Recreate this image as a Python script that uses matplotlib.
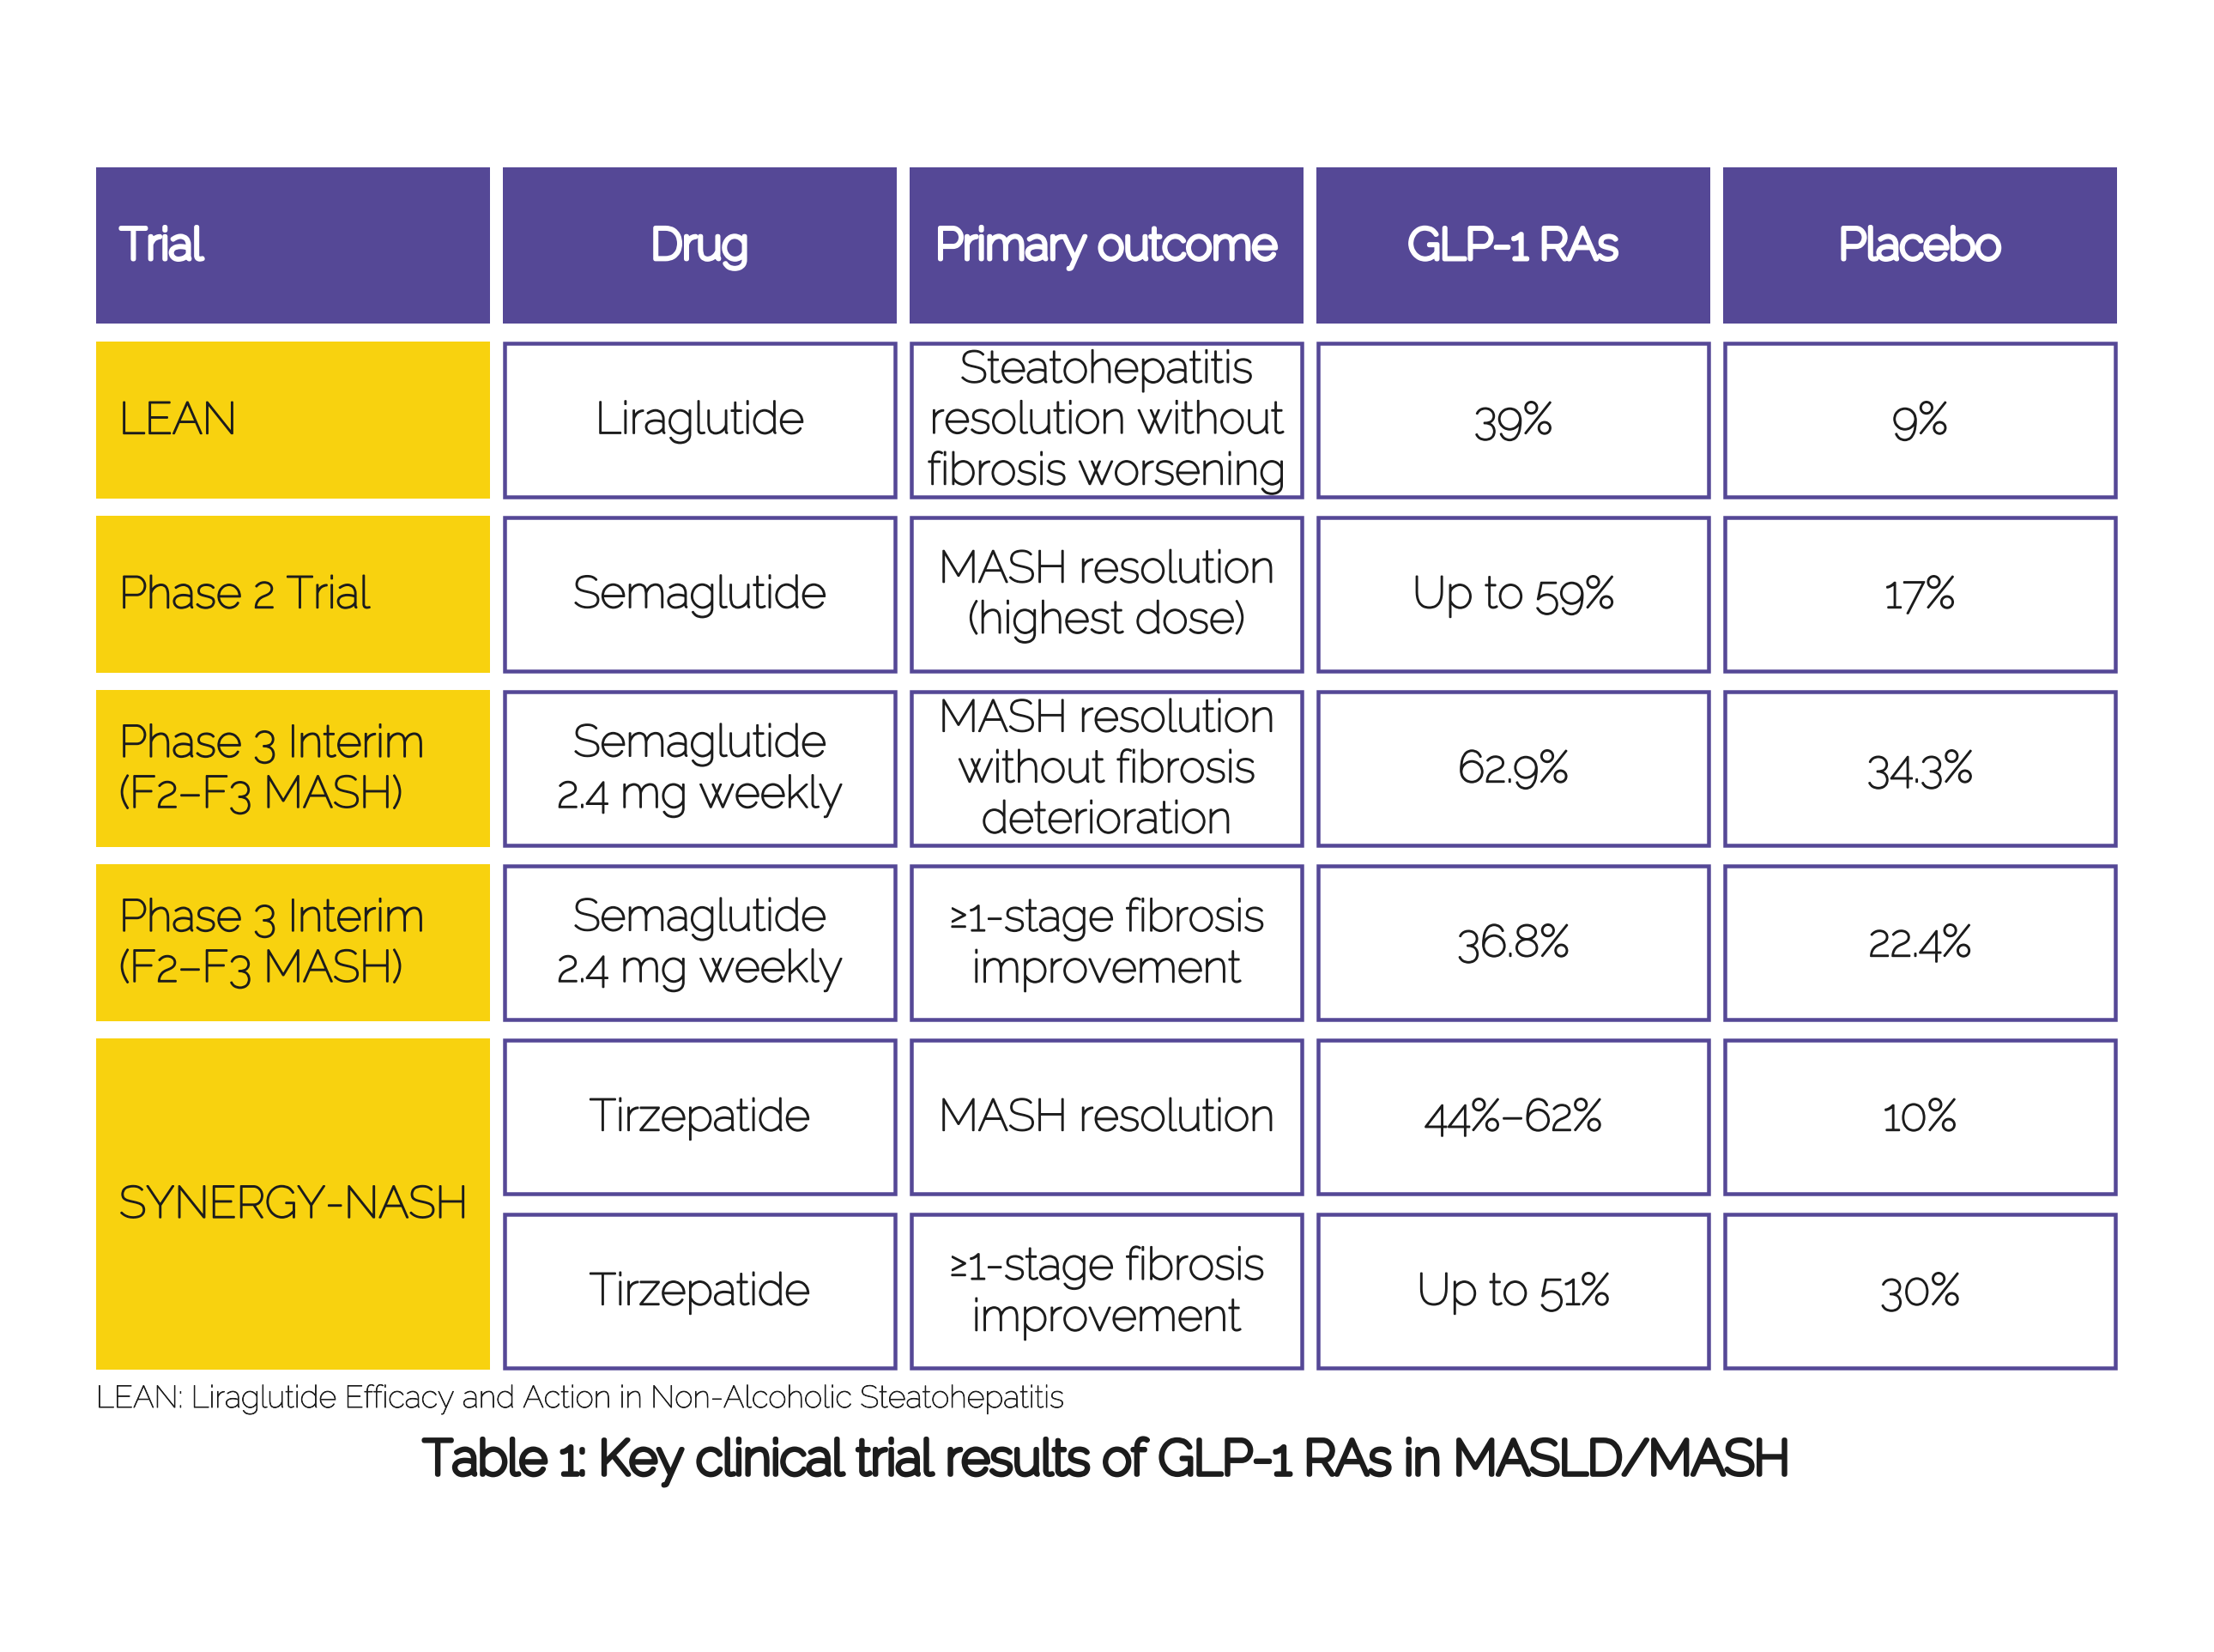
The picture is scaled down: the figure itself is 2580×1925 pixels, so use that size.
import matplotlib
matplotlib.use("Agg")
import matplotlib.pyplot as plt
from matplotlib.patches import Rectangle
from matplotlib import patheffects as pe

# ---------------- data ----------------
headers = ["Trial", "Drug", "Primary outcome", "GLP-1 RAs", "Placebo"]
trials = ["LEAN", "Phase 2 Trial", "Phase 3 Interim\n(F2–F3 MASH)",
          "Phase 3 Interim\n(F2–F3 MASH)", "SYNERGY-NASH"]
trial_spans = [1, 1, 1, 1, 2]
drugs = ["Liraglutide", "Semaglutide", "Semaglutide\n2.4 mg weekly",
         "Semaglutide\n2.4 mg weekly", "Tirzepatide", "Tirzepatide"]
outcomes = ["Steatohepatitis\nresolution without\nfibrosis worsening",
            "MASH resolution\n(highest dose)",
            "MASH resolution\nwithout fibrosis\ndeterioration",
            "≥1-stage fibrosis\nimprovement",
            "MASH resolution",
            "≥1-stage fibrosis\nimprovement"]
glp1 = ["39%", "Up to 59%", "62.9%", "36.8%", "44%–62%", "Up to 51%"]
placebo = ["9%", "17%", "34.3%", "22.4%", "10%", "30%"]
footnote = "LEAN: Liraglutide Efficacy and Action in Non-Alcoholic Steatohepatitis"
title = "Table 1: Key clinical trial results of GLP-1 RAs in MASLD/MASH"

# ---------------- style ----------------
PURPLE = "#554896"
YELLOW = "#F8D20F"
TEXT = "#1c1c1c"
FAM = ["Raleway", "DejaVu Sans"]

def thick(color, w):
    return [pe.withStroke(linewidth=w, foreground=color)]

BODY_FX = thick(TEXT, 1.35)
HEAD_FX = thick("white", 3.6)
TITLE_FX = thick(TEXT, 3.8)
FOOT_FX = thick(TEXT, 0.6)

W, H = 2580, 1925
fig = plt.figure(figsize=(W / 100, H / 100), dpi=100)
ax = fig.add_axes([0, 0, 1, 1])
ax.set_xlim(0, W)
ax.set_ylim(H, 0)
ax.axis("off")

col_left = 112
col_w = 459
col_gap = 15
head_top = 195
head_h = 182
row_top0 = 398
row_h = 183
row_pitch = 203
lw_px = 4.5
lw_pt = lw_px * 72 / 100

BODY_FS = 37.3
HEAD_FS = 37.0
LS = 1.22

def col_x(c):
    return col_left + c * (col_w + col_gap)

def row_y(r):
    return row_top0 + r * row_pitch

# header
for c, h in enumerate(headers):
    x = col_x(c)
    ax.add_patch(Rectangle((x, head_top), col_w, head_h, facecolor=PURPLE,
                           edgecolor="none"))
    cy = head_top + head_h / 2 + 3
    if c == 0:
        ax.text(x + 28, cy, h, ha="left", va="center", color="white",
                fontsize=HEAD_FS, family=FAM, path_effects=HEAD_FX)
    else:
        ax.text(x + col_w / 2, cy, h, ha="center", va="center", color="white",
                fontsize=HEAD_FS, family=FAM, path_effects=HEAD_FX)

# trial column (yellow)
r = 0
for t, span in zip(trials, trial_spans):
    y0 = row_y(r)
    hgt = row_h + (span - 1) * row_pitch
    ax.add_patch(Rectangle((col_x(0), y0), col_w, hgt, facecolor=YELLOW,
                           edgecolor="none"))
    ax.text(col_x(0) + 27, y0 + hgt / 2 + 2, t, ha="left", va="center",
            color=TEXT, fontsize=BODY_FS, family=FAM, linespacing=LS,
            path_effects=BODY_FX)
    r += span

# white bordered cells
columns = [drugs, outcomes, glp1, placebo]
for ci, vals in enumerate(columns, start=1):
    x = col_x(ci)
    for ri, v in enumerate(vals):
        y0 = row_y(ri)
        ax.add_patch(Rectangle((x + lw_px / 2, y0 + lw_px / 2),
                               col_w - lw_px, row_h - lw_px,
                               facecolor="white", edgecolor=PURPLE,
                               linewidth=lw_pt))
        ax.text(x + col_w / 2, y0 + row_h / 2 + 2, v, ha="center",
                va="center", color=TEXT, fontsize=BODY_FS, family=FAM,
                linespacing=LS, multialignment="center",
                path_effects=BODY_FX)

# footnote & title
ax.text(col_left, 1631, footnote, ha="left", va="center", color=TEXT,
        fontsize=26, family=FAM, path_effects=FOOT_FX)
ax.text(W / 2, 1703, title, ha="center", va="center", color=TEXT,
        fontsize=41, family=FAM, path_effects=TITLE_FX)

fig.savefig("out.png", dpi=100, facecolor="white")
